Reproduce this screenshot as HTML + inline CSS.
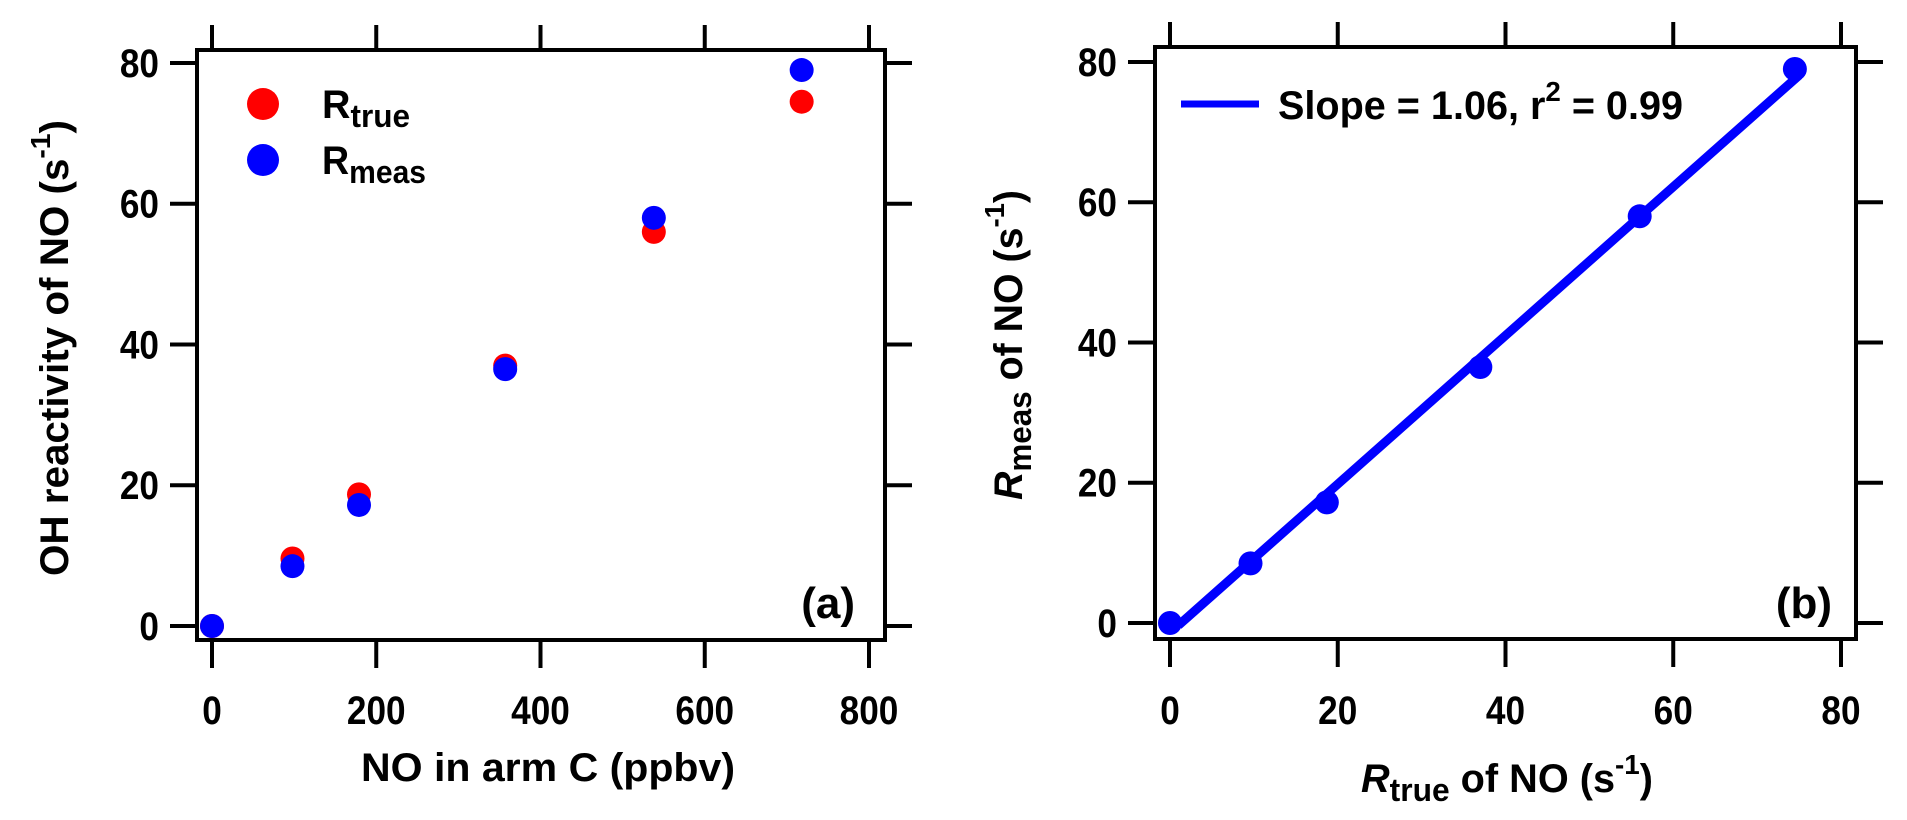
<!DOCTYPE html>
<html><head><meta charset="utf-8"><style>
html,body{margin:0;padding:0;background:#fff;}
svg{display:block;font-family:"Liberation Sans",Arial,sans-serif;font-weight:bold;}
</style></head><body>
<svg id="chart" width="1907" height="820" viewBox="0 0 1907 820" xmlns="http://www.w3.org/2000/svg"></svg>
<script>
const noConc = [0, 98, 179, 357, 538, 718];
const rTrue = [0, 9.6, 18.7, 37, 56, 74.5];
const rMeas = [0, 8.5, 17.2, 36.5, 58, 79];
const xTicksA = [0, 200, 400, 600, 800];
const yTicks = [0, 20, 40, 60, 80];
const xTicksB = [0, 20, 40, 60, 80];
const fitSlope = [1.06];
const fitIntercept = [-1.4];
const fitRange = [1, 75];

const NS = "http://www.w3.org/2000/svg";
const svg = document.getElementById('chart');
function mk(tag, attrs, parent) {
  const e = document.createElementNS(NS, tag);
  for (const k in attrs) e.setAttribute(k, attrs[k]);
  (parent || svg).appendChild(e);
  return e;
}
function panel(name, fx0, fy0, fx1, fy1, xs, ys, xTicks) {
  const g = mk('g', {});
  
  
  const fr = mk('rect', {x: fx0, y: fy0, width: fx1 - fx0, height: fy1 - fy0, fill: 'none', stroke: '#000', 'stroke-width': 4}, g);
  
  
  xTicks.forEach(t => {
    const x = xs(t);
    const a = mk('line', {x1: x, x2: x, y1: fy1, y2: fy1 + 28, stroke: '#000', 'stroke-width': 4}, g);
    
    
    const b = mk('line', {x1: x, x2: x, y1: fy0, y2: fy0 - 25, stroke: '#000', 'stroke-width': 4}, g);
    
    
    const tl = mk('text', {x: x, y: 724, 'font-size': 40, 'text-anchor': 'middle', transform: 'translate(' + x + ',0) scale(0.88,1) translate(' + (-x) + ',0)'}, g);
    tl.textContent = t;
    
    
  });
  yTicks.forEach(t => {
    const y = ys(t);
    const a = mk('line', {x1: fx0 - 27, x2: fx0, y1: y, y2: y, stroke: '#000', 'stroke-width': 4}, g);
    
    
    const b = mk('line', {x1: fx1, x2: fx1 + 27, y1: y, y2: y, stroke: '#000', 'stroke-width': 4}, g);
    
    
    const ax = fx0 - 38;
    const tl = mk('text', {x: ax, y: y + 14, 'font-size': 40, 'text-anchor': 'end', transform: 'translate(' + ax + ',0) scale(0.88,1) translate(' + (-ax) + ',0)'}, g);
    tl.textContent = t;
    
    
  });
  return g;
}
// Panel a
const axA = {x0: 212, x1: 869, y0: 626, y1: 63};
const xA = v => axA.x0 + (v / 800) * (axA.x1 - axA.x0);
const yA = v => axA.y0 + (v / 80) * (axA.y1 - axA.y0);
const gA = panel('panel-a', 197, 50, 885, 640, xA, yA, xTicksA);
noConc.forEach((c, i) => {
  const p = mk('circle', {cx: xA(c), cy: yA(rTrue[i]), r: 12, fill: '#ff0000'}, gA);
  
  
});
noConc.forEach((c, i) => {
  const p = mk('circle', {cx: xA(c), cy: yA(rMeas[i]), r: 12, fill: '#0000ff'}, gA);
  
  
});
// Panel b
const axB = {x0: 1170, x1: 1841, y0: 623, y1: 62};
const xB = v => axB.x0 + (v / 80) * (axB.x1 - axB.x0);
const yB = v => axB.y0 + (v / 80) * (axB.y1 - axB.y0);
const gB = panel('panel-b', 1155, 47, 1856, 639, xB, yB, xTicksB);
const fl = mk('line', {x1: xB(fitRange[0]), y1: yB(fitSlope[0] * fitRange[0] + fitIntercept[0]), x2: xB(fitRange[1]), y2: yB(fitSlope[0] * fitRange[1] + fitIntercept[0]), stroke: '#0000ff', 'stroke-width': 9}, gB);


rTrue.forEach((t, i) => {
  const p = mk('circle', {cx: xB(t), cy: yB(rMeas[i]), r: 12, fill: '#0000ff'}, gB);
  
  
});
</script>
<svg style="position:absolute;left:0;top:0" width="1907" height="820" xmlns="http://www.w3.org/2000/svg">
  <g>
    <circle cx="263" cy="104" r="16" fill="#ff0000"/>
    <text x="322" y="118" font-size="40" textLength="88" lengthAdjust="spacingAndGlyphs">R<tspan font-size="32" dy="9">true</tspan></text>
    <circle cx="263" cy="160" r="16" fill="#0000ff"/>
    <text x="322" y="174" font-size="40" textLength="104" lengthAdjust="spacingAndGlyphs">R<tspan font-size="32" dy="9">meas</tspan></text>
  </g>
  <text x="855" y="618" font-size="44" text-anchor="end">(a)</text>
  <text x="361" y="781" font-size="40" textLength="374" lengthAdjust="spacingAndGlyphs">NO in arm C (ppbv)</text>
  <text transform="translate(68,576) rotate(-90)" font-size="40" textLength="456" lengthAdjust="spacingAndGlyphs">OH reactivity of NO (s<tspan font-size="28" dy="-18">-1</tspan><tspan dy="18">)</tspan></text>
  <g>
    <line x1="1181" y1="104" x2="1259" y2="104" stroke="#0000ff" stroke-width="7"/>
    <text x="1278" y="119" font-size="40" textLength="405" lengthAdjust="spacingAndGlyphs">Slope = 1.06, r<tspan font-size="28" dy="-18">2</tspan><tspan dy="18"> = 0.99</tspan></text>
  </g>
  <text x="1832" y="618" font-size="44" text-anchor="end">(b)</text>
  <text x="1361" y="792" font-size="40" textLength="292" lengthAdjust="spacingAndGlyphs"><tspan font-style="italic">R</tspan><tspan font-size="32" dy="9">true</tspan><tspan dy="-9"> of NO (s</tspan><tspan font-size="28" dy="-18">-1</tspan><tspan dy="18">)</tspan></text>
  <text transform="translate(1022,500) rotate(-90)" font-size="40" textLength="310" lengthAdjust="spacingAndGlyphs"><tspan font-style="italic">R</tspan><tspan font-size="32" dy="9">meas</tspan><tspan dy="-9"> of NO (s</tspan><tspan font-size="28" dy="-18">-1</tspan><tspan dy="18">)</tspan></text>
</svg>
</body></html>
